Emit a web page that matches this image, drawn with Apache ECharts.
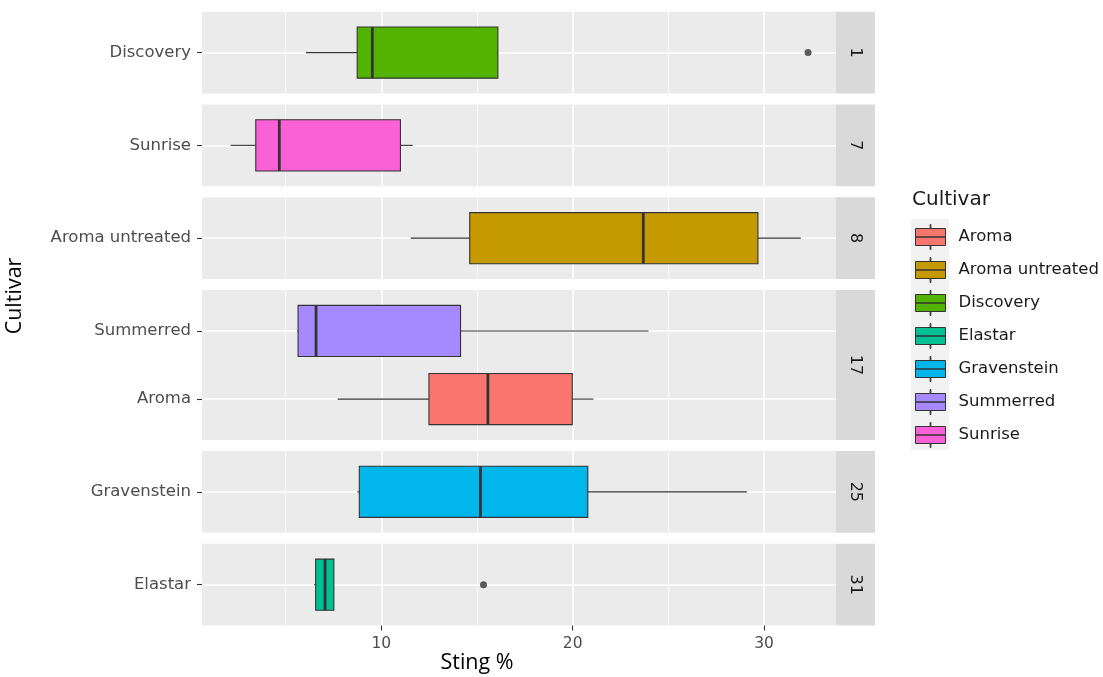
<!DOCTYPE html>
<html><head><meta charset="utf-8">
<script src="https://cdn.jsdelivr.net/npm/echarts@6/dist/echarts.min.js"></script>
<style>html,body{margin:0;padding:0;background:#fff}#c{width:1103px;height:677px}</style>
</head><body><div id="c"></div>
<script>
// ---- data ----
const cultivars = ['Aroma','Aroma untreated','Discovery','Elastar','Gravenstein','Summerred','Sunrise'];
const cultivarColors = ['#F8766D','#C49A00','#53B400','#00C094','#00B6EB','#A58AFF','#FB61D7'];
// [lower whisker, Q1, median, Q3, upper whisker]
const aroma = [7.72, 12.49, 15.57, 19.98, 21.09];
const aromaUntreated = [11.54, 14.62, 23.69, 29.68, 31.92];
const discovery = [6.07, 8.74, 9.53, 16.09, 16.09];
const elastar = [6.5, 6.57, 7.06, 7.52, 7.52];
const gravenstein = [8.74, 8.85, 15.18, 20.79, 29.1];
const summerred = [5.6, 5.65, 6.59, 14.14, 23.96];
const sunrise = [2.13, 3.44, 4.67, 11.0, 11.64];
const discoveryOutliers = [32.3];
const elastarOutliers = [15.34];
const facetLabels = ['1','7','8','17','25','31'];
const facetRows = [['Discovery'],['Sunrise'],['Aroma untreated'],['Summerred','Aroma'],['Gravenstein'],['Elastar']];
const xMajorTicks = [10,20,30];
const xMinorTicks = [5,15,25];
const xLimits = [0.63, 33.76];
const xTitle = 'Sting %';
const yTitle = 'Cultivar';
const legendTitle = 'Cultivar';

const statsByName = {
  'Aroma': aroma, 'Aroma untreated': aromaUntreated, 'Discovery': discovery,
  'Elastar': elastar, 'Gravenstein': gravenstein, 'Summerred': summerred, 'Sunrise': sunrise
};
const outliersByName = { 'Discovery': discoveryOutliers, 'Elastar': elastarOutliers };

// ---- layout (style only) ----
const L = { left: 202, width: 634, top: 11.7, unitPx: 68.15, gap: 11, stripW: 39 };
const TXT = '#4d4d4d', INK = '#333333';
const panelTops = [], panelHeights = [];
let yCursor = L.top;
facetRows.forEach(rows => {
  const h = (rows.length + 0.2) * L.unitPx;
  panelTops.push(yCursor); panelHeights.push(h);
  yCursor += h + L.gap;
});
const nP = facetRows.length;

const grids = [], xAxes = [], yAxes = [], series = [], graphics = [];
facetRows.forEach((rows, p) => {
  const last = p === nP - 1;
  grids.push({ left: L.left, top: panelTops[p], width: L.width, height: panelHeights[p],
    show: true, backgroundColor: '#ebebeb', borderWidth: 0, containLabel: false });
  xAxes.push({ type: 'value', gridIndex: p, min: xLimits[0], max: xLimits[1], position: 'bottom',
    axisLine: { show: false },
    axisTick: { show: last, length: 5, customValues: xMajorTicks, lineStyle: { color: INK, width: 1.1 } },
    axisLabel: { show: last, customValues: xMajorTicks, margin: 10, color: TXT, fontFamily: 'DejaVu Sans', fontSize: 15.5 },
    splitLine: { show: true, lineStyle: { color: '#ffffff', width: 1.6 } },
    z: 1 });
  const ticks = rows.map((r, i) => i + 1);
  yAxes.push({ type: 'value', gridIndex: p, inverse: true, min: 0.4, max: rows.length + 0.6,
    axisLine: { show: false },
    axisTick: { show: true, length: 5, customValues: ticks, lineStyle: { color: INK, width: 1.1 } },
    axisLabel: { customValues: ticks, margin: 11, color: TXT, fontFamily: 'DejaVu Sans', fontSize: 16.5,
      formatter: v => rows[Math.round(v) - 1] || '' },
    splitLine: { show: true, lineStyle: { color: '#ffffff', width: 1.6 } } });
  // strip
  graphics.push({ type: 'rect', shape: { x: L.left + L.width, y: panelTops[p], width: L.stripW, height: panelHeights[p] },
    style: { fill: '#d9d9d9' }, z: 1 });
  graphics.push({ type: 'text', x: L.left + L.width + L.stripW / 2, y: panelTops[p] + panelHeights[p] / 2,
    rotation: -Math.PI / 2,
    style: { text: facetLabels[p], fill: '#1a1a1a', font: '16px "DejaVu Sans"', align: 'center', verticalAlign: 'middle' }, z: 2 });
});
// minor x axes (top, hidden) for minor gridlines
facetRows.forEach((rows, p) => {
  xAxes.push({ type: 'value', gridIndex: p, min: xLimits[0], max: xLimits[1], position: 'top',
    axisLine: { show: false }, axisTick: { show: false, customValues: xMinorTicks },
    axisLabel: { show: false, customValues: xMinorTicks },
    splitLine: { show: true, lineStyle: { color: '#ffffff', width: 0.8 } } });
});

function renderBox(params, api) {
  const y = api.value(5);
  const half = api.size([0, 0.75])[1] / 2;
  const lo = api.coord([api.value(0), y]);
  const q1 = api.coord([api.value(1), y]);
  const md = api.coord([api.value(2), y]);
  const q3 = api.coord([api.value(3), y]);
  const hi = api.coord([api.value(4), y]);
  const ls = { stroke: INK, lineWidth: 1.1 };
  return { type: 'group', children: [
    { type: 'line', shape: { x1: lo[0], y1: lo[1], x2: q1[0], y2: q1[1] }, style: ls },
    { type: 'line', shape: { x1: q3[0], y1: q3[1], x2: hi[0], y2: hi[1] }, style: ls },
    { type: 'rect', shape: { x: q1[0], y: q1[1] - half, width: q3[0] - q1[0], height: 2 * half },
      style: { fill: api.visual('color'), stroke: INK, lineWidth: 1.1 } },
    { type: 'line', shape: { x1: md[0], y1: md[1] - half, x2: md[0], y2: md[1] + half },
      style: { stroke: INK, lineWidth: 2.8 } }
  ] };
}

cultivars.forEach((name, ci) => {
  const p = facetRows.findIndex(r => r.includes(name));
  const pos = facetRows[p].indexOf(name) + 1;
  series.push({ type: 'custom', name, xAxisIndex: p, yAxisIndex: p, renderItem: renderBox,
    itemStyle: { color: cultivarColors[ci] },
    encode: { x: [0, 1, 2, 3, 4], y: 5 },
    data: [[...statsByName[name], pos]], z: 3, silent: true });
  if (outliersByName[name]) {
    series.push({ type: 'scatter', name: name + ' outliers', xAxisIndex: p, yAxisIndex: p,
      symbolSize: 7, itemStyle: { color: INK }, z: 4, silent: true,
      data: outliersByName[name].map(v => [v, pos]) });
  }
});

const keyPath = 'path://M14.6,0h0.8v4h-0.8z M0,4h30v8.5h-30z M0,12.5h30v8.5h-30z M14.6,21h0.8v4h-0.8z';
graphics.push({ type: 'rect', shape: { x: 911, y: 219, width: 38, height: 231 }, style: { fill: '#f2f2f2' }, z: 0 });
graphics.push({ type: 'text', x: 912, y: 200, style: { text: legendTitle, fill: '#1a1a1a', font: '20px "DejaVu Sans"', align: 'left', verticalAlign: 'middle' } });
graphics.push({ type: 'text', x: 15, y: 296, rotation: Math.PI / 2,
  style: { text: yTitle, fill: '#000', font: '21.5px "Open Sans"', align: 'center', verticalAlign: 'middle' } });
graphics.push({ type: 'text', x: 477, y: 663,
  style: { text: xTitle, fill: '#000', font: '21.5px "Open Sans"', align: 'center', verticalAlign: 'middle' } });

const option = {
  animation: false,
  backgroundColor: '#ffffff',
  grid: grids, xAxis: xAxes, yAxis: yAxes, series,
  legend: { orient: 'vertical', left: 910, top: 219, itemWidth: 30, itemHeight: 25, itemGap: 7,
    selectedMode: false, z: 10,
    data: cultivars.map((c, i) => ({ name: c, icon: keyPath,
      itemStyle: { color: cultivarColors[i], borderColor: INK, borderWidth: 1 } })),
    textStyle: { fontFamily: 'DejaVu Sans', fontSize: 16.5, color: '#1a1a1a', padding: [0, 0, 0, 8] } },
  graphic: { elements: graphics }
};
const chart = echarts.init(document.getElementById('c'), null, { renderer: 'canvas' });
chart.setOption(option);
</script></body></html>
